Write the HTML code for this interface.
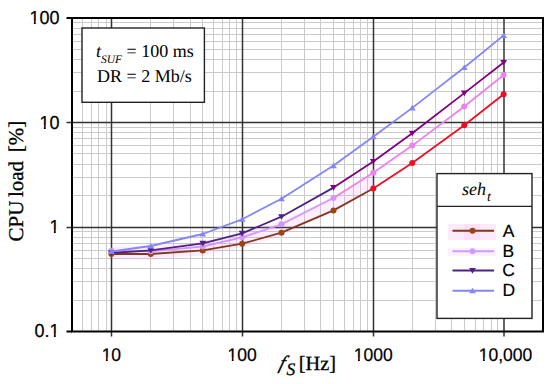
<!DOCTYPE html>
<html><head><meta charset="utf-8"><style>
html,body{margin:0;padding:0;background:#fff;width:550px;height:384px;overflow:hidden}
svg{position:absolute;left:0;top:0}
text{text-rendering:geometricPrecision;stroke:#000;stroke-width:0.2px}
.bold text,text.bold{stroke-width:0.3px}
.thin text,text.thin{stroke-width:0}
.sans{font-family:"Liberation Sans",sans-serif}
.serif{font-family:"Liberation Serif",serif}
</style></head><body>
<svg width="550" height="384" viewBox="0 0 550 384" text-rendering="geometricPrecision">
<rect width="550" height="384" fill="#fff"/>
<line x1="82.5" y1="18" x2="82.5" y2="331.5" stroke="#cbcbcb" stroke-width="1"/>
<line x1="91.5" y1="18" x2="91.5" y2="331.5" stroke="#cbcbcb" stroke-width="1"/>
<line x1="98.5" y1="18" x2="98.5" y2="331.5" stroke="#cbcbcb" stroke-width="1"/>
<line x1="106.5" y1="18" x2="106.5" y2="331.5" stroke="#cbcbcb" stroke-width="1"/>
<line x1="150.5" y1="18" x2="150.5" y2="331.5" stroke="#cbcbcb" stroke-width="1"/>
<line x1="173.5" y1="18" x2="173.5" y2="331.5" stroke="#cbcbcb" stroke-width="1"/>
<line x1="190.5" y1="18" x2="190.5" y2="331.5" stroke="#cbcbcb" stroke-width="1"/>
<line x1="202.5" y1="18" x2="202.5" y2="331.5" stroke="#cbcbcb" stroke-width="1"/>
<line x1="213.5" y1="18" x2="213.5" y2="331.5" stroke="#cbcbcb" stroke-width="1"/>
<line x1="222.5" y1="18" x2="222.5" y2="331.5" stroke="#cbcbcb" stroke-width="1"/>
<line x1="229.5" y1="18" x2="229.5" y2="331.5" stroke="#cbcbcb" stroke-width="1"/>
<line x1="236.5" y1="18" x2="236.5" y2="331.5" stroke="#cbcbcb" stroke-width="1"/>
<line x1="281.5" y1="18" x2="281.5" y2="331.5" stroke="#cbcbcb" stroke-width="1"/>
<line x1="304.5" y1="18" x2="304.5" y2="331.5" stroke="#cbcbcb" stroke-width="1"/>
<line x1="320.5" y1="18" x2="320.5" y2="331.5" stroke="#cbcbcb" stroke-width="1"/>
<line x1="333.5" y1="18" x2="333.5" y2="331.5" stroke="#cbcbcb" stroke-width="1"/>
<line x1="344.5" y1="18" x2="344.5" y2="331.5" stroke="#cbcbcb" stroke-width="1"/>
<line x1="353.5" y1="18" x2="353.5" y2="331.5" stroke="#cbcbcb" stroke-width="1"/>
<line x1="360.5" y1="18" x2="360.5" y2="331.5" stroke="#cbcbcb" stroke-width="1"/>
<line x1="367.5" y1="18" x2="367.5" y2="331.5" stroke="#cbcbcb" stroke-width="1"/>
<line x1="412.5" y1="18" x2="412.5" y2="331.5" stroke="#cbcbcb" stroke-width="1"/>
<line x1="435.5" y1="18" x2="435.5" y2="331.5" stroke="#cbcbcb" stroke-width="1"/>
<line x1="451.5" y1="18" x2="451.5" y2="331.5" stroke="#cbcbcb" stroke-width="1"/>
<line x1="464.5" y1="18" x2="464.5" y2="331.5" stroke="#cbcbcb" stroke-width="1"/>
<line x1="475.5" y1="18" x2="475.5" y2="331.5" stroke="#cbcbcb" stroke-width="1"/>
<line x1="483.5" y1="18" x2="483.5" y2="331.5" stroke="#cbcbcb" stroke-width="1"/>
<line x1="491.5" y1="18" x2="491.5" y2="331.5" stroke="#cbcbcb" stroke-width="1"/>
<line x1="497.5" y1="18" x2="497.5" y2="331.5" stroke="#cbcbcb" stroke-width="1"/>
<line x1="72" y1="300.5" x2="543" y2="300.5" stroke="#cbcbcb" stroke-width="1"/>
<line x1="72" y1="281.5" x2="543" y2="281.5" stroke="#cbcbcb" stroke-width="1"/>
<line x1="72" y1="268.5" x2="543" y2="268.5" stroke="#cbcbcb" stroke-width="1"/>
<line x1="72" y1="258.5" x2="543" y2="258.5" stroke="#cbcbcb" stroke-width="1"/>
<line x1="72" y1="250.5" x2="543" y2="250.5" stroke="#cbcbcb" stroke-width="1"/>
<line x1="72" y1="243.5" x2="543" y2="243.5" stroke="#cbcbcb" stroke-width="1"/>
<line x1="72" y1="237.5" x2="543" y2="237.5" stroke="#cbcbcb" stroke-width="1"/>
<line x1="72" y1="231.5" x2="543" y2="231.5" stroke="#cbcbcb" stroke-width="1"/>
<line x1="72" y1="195.5" x2="543" y2="195.5" stroke="#cbcbcb" stroke-width="1"/>
<line x1="72" y1="177.5" x2="543" y2="177.5" stroke="#cbcbcb" stroke-width="1"/>
<line x1="72" y1="164.5" x2="543" y2="164.5" stroke="#cbcbcb" stroke-width="1"/>
<line x1="72" y1="153.5" x2="543" y2="153.5" stroke="#cbcbcb" stroke-width="1"/>
<line x1="72" y1="145.5" x2="543" y2="145.5" stroke="#cbcbcb" stroke-width="1"/>
<line x1="72" y1="138.5" x2="543" y2="138.5" stroke="#cbcbcb" stroke-width="1"/>
<line x1="72" y1="132.5" x2="543" y2="132.5" stroke="#cbcbcb" stroke-width="1"/>
<line x1="72" y1="127.5" x2="543" y2="127.5" stroke="#cbcbcb" stroke-width="1"/>
<line x1="72" y1="91.5" x2="543" y2="91.5" stroke="#cbcbcb" stroke-width="1"/>
<line x1="72" y1="72.5" x2="543" y2="72.5" stroke="#cbcbcb" stroke-width="1"/>
<line x1="72" y1="59.5" x2="543" y2="59.5" stroke="#cbcbcb" stroke-width="1"/>
<line x1="72" y1="49.5" x2="543" y2="49.5" stroke="#cbcbcb" stroke-width="1"/>
<line x1="72" y1="41.5" x2="543" y2="41.5" stroke="#cbcbcb" stroke-width="1"/>
<line x1="72" y1="34.5" x2="543" y2="34.5" stroke="#cbcbcb" stroke-width="1"/>
<line x1="72" y1="28.5" x2="543" y2="28.5" stroke="#cbcbcb" stroke-width="1"/>
<line x1="72" y1="22.5" x2="543" y2="22.5" stroke="#cbcbcb" stroke-width="1"/>
<line x1="111.5" y1="18" x2="111.5" y2="336.5" stroke="#333333" stroke-width="1.5"/>
<line x1="242.5" y1="18" x2="242.5" y2="336.5" stroke="#333333" stroke-width="1.5"/>
<line x1="373.5" y1="18" x2="373.5" y2="336.5" stroke="#333333" stroke-width="1.5"/>
<line x1="504.0" y1="18" x2="504.0" y2="336.5" stroke="#333333" stroke-width="1.5"/>
<line x1="66.5" y1="227.5" x2="543" y2="227.5" stroke="#333333" stroke-width="1.5"/>
<line x1="66.5" y1="122.5" x2="543" y2="122.5" stroke="#333333" stroke-width="1.5"/>
<line x1="66.5" y1="18.0" x2="72" y2="18.0" stroke="#000" stroke-width="2"/>
<line x1="66.5" y1="331.5" x2="72" y2="331.5" stroke="#000" stroke-width="2"/>
<rect x="72" y="18" width="471" height="313.5" fill="none" stroke="#000" stroke-width="2"/>
<polyline points="111.4,252.4 150.7,252.7 202.8,248.4 242.1,240.5 281.5,228.5 333.5,204.2 373.3,180.7" fill="none" stroke="#ff70ff" stroke-opacity="0.12" stroke-width="14" stroke-linejoin="round"/>
<polyline points="111.36,254.00 150.73,254.00 202.76,250.40 242.12,243.70 281.49,232.70 333.52,210.40 373.30,188.50" fill="none" stroke="#80391a" stroke-width="1.8" stroke-linejoin="round"/>
<polyline points="373.30,188.50 412.25,162.90 464.28,125.20 503.64,94.30" fill="none" stroke="#ec1026" stroke-width="1.8" stroke-linejoin="round"/>
<circle cx="111.36" cy="254.00" r="3.0" fill="#9a4512"/>
<circle cx="150.73" cy="254.00" r="3.0" fill="#9a4512"/>
<circle cx="202.76" cy="250.40" r="3.0" fill="#9a4512"/>
<circle cx="242.12" cy="243.70" r="3.0" fill="#9a4512"/>
<circle cx="281.49" cy="232.70" r="3.0" fill="#9a4512"/>
<circle cx="333.52" cy="210.40" r="3.0" fill="#9a4512"/>
<circle cx="373.30" cy="188.50" r="3.0" fill="#ec1026"/>
<circle cx="412.25" cy="162.90" r="3.0" fill="#ec1026"/>
<circle cx="464.28" cy="125.20" r="3.0" fill="#ec1026"/>
<circle cx="503.64" cy="94.30" r="3.0" fill="#ec1026"/>
<polyline points="111.36,250.80 150.73,251.30 202.76,246.50 242.12,237.30 281.49,224.30 333.52,198.00" fill="none" stroke="#d296f6" stroke-width="1.8" stroke-linejoin="round"/>
<polyline points="333.52,198.00 373.30,172.80 412.25,145.60 464.28,106.50 503.64,75.00" fill="none" stroke="#f080f0" stroke-width="1.8" stroke-linejoin="round"/>
<circle cx="111.36" cy="250.80" r="3.0" fill="#d296f6"/>
<circle cx="150.73" cy="251.30" r="3.0" fill="#d296f6"/>
<circle cx="202.76" cy="246.50" r="3.0" fill="#d296f6"/>
<circle cx="242.12" cy="237.30" r="3.0" fill="#d296f6"/>
<circle cx="281.49" cy="224.30" r="3.0" fill="#d296f6"/>
<circle cx="333.52" cy="198.00" r="3.0" fill="#d296f6"/>
<circle cx="373.30" cy="172.80" r="3.0" fill="#f080f0"/>
<circle cx="412.25" cy="145.60" r="3.0" fill="#f080f0"/>
<circle cx="464.28" cy="106.50" r="3.0" fill="#f080f0"/>
<circle cx="503.64" cy="75.00" r="3.0" fill="#f080f0"/>
<polyline points="111.36,253.00 150.73,250.40 202.76,243.40 242.12,233.40 281.49,216.70 333.52,187.60" fill="none" stroke="#4f2185" stroke-width="1.8" stroke-linejoin="round"/>
<polyline points="333.52,187.60 373.30,161.50 412.25,133.30 464.28,93.10 503.64,62.50" fill="none" stroke="#800080" stroke-width="1.8" stroke-linejoin="round"/>
<polygon points="107.96,250.45 114.76,250.45 111.36,256.06" fill="#4f2185"/>
<polygon points="147.33,247.85 154.13,247.85 150.73,253.46" fill="#4f2185"/>
<polygon points="199.36,240.85 206.16,240.85 202.76,246.46" fill="#4f2185"/>
<polygon points="238.72,230.85 245.52,230.85 242.12,236.46" fill="#4f2185"/>
<polygon points="278.09,214.15 284.89,214.15 281.49,219.76" fill="#4f2185"/>
<polygon points="330.12,185.05 336.92,185.05 333.52,190.66" fill="#800080"/>
<polygon points="369.90,158.95 376.70,158.95 373.30,164.56" fill="#800080"/>
<polygon points="408.85,130.75 415.65,130.75 412.25,136.36" fill="#800080"/>
<polygon points="460.88,90.55 467.68,90.55 464.28,96.16" fill="#800080"/>
<polygon points="500.24,59.95 507.04,59.95 503.64,65.56" fill="#800080"/>
<polyline points="111.36,251.50 150.73,246.00 202.76,234.00 242.12,219.30 281.49,198.75 333.52,165.60 373.30,136.80 412.25,107.90 464.28,67.50 503.64,35.40" fill="none" stroke="#8585f5" stroke-width="1.8" stroke-linejoin="round"/>
<polygon points="107.96,254.05 114.76,254.05 111.36,248.44" fill="#8585f5"/>
<polygon points="147.33,248.55 154.13,248.55 150.73,242.94" fill="#8585f5"/>
<polygon points="199.36,236.55 206.16,236.55 202.76,230.94" fill="#8585f5"/>
<polygon points="238.72,221.85 245.52,221.85 242.12,216.24" fill="#8585f5"/>
<polygon points="278.09,201.30 284.89,201.30 281.49,195.69" fill="#8585f5"/>
<polygon points="330.12,168.15 336.92,168.15 333.52,162.54" fill="#8585f5"/>
<polygon points="369.90,139.35 376.70,139.35 373.30,133.74" fill="#8585f5"/>
<polygon points="408.85,110.45 415.65,110.45 412.25,104.84" fill="#8585f5"/>
<polygon points="460.88,70.05 467.68,70.05 464.28,64.44" fill="#8585f5"/>
<polygon points="500.24,37.95 507.04,37.95 503.64,32.34" fill="#8585f5"/>
<!-- annotation box -->
<rect x="82" y="28" width="122.4" height="74.3" fill="#fff" stroke="#222" stroke-width="1.4"/>
<text class="thin" font-family="Liberation Serif" x="96" y="57" font-size="18"><tspan font-style="italic">t</tspan><tspan font-style="italic" font-size="11.5" dy="5.5">SUF</tspan><tspan dy="-5.5"> = 100 ms</tspan></text>
<text class="thin" font-family="Liberation Serif" x="97" y="82.3" font-size="18">DR = 2 Mb/s</text>
<!-- legend -->
<rect x="437" y="173.6" width="95" height="144.8" fill="#fff" stroke="#222" stroke-width="1.4"/>
<rect x="448" y="224" width="48" height="16" fill="#fdebfc"/>
<rect x="464" y="224" width="16" height="16" fill="#fbe0f8"/>
<rect x="448" y="248" width="48" height="8" fill="#fdf0fd"/>
<line x1="437" y1="206.4" x2="532" y2="206.4" stroke="#222" stroke-width="1.4"/>
<text class="thin" font-family="Liberation Serif" x="462" y="195" font-size="18" font-style="italic">seh<tspan font-size="14" dx="1" dy="6">t</tspan></text>
<line x1="452.5" y1="230.8" x2="494" y2="230.8" stroke="#80391a" stroke-width="2"/>
<circle cx="472.50" cy="230.80" r="3.0" fill="#9a4512"/>
<line x1="452.5" y1="251.2" x2="494" y2="251.2" stroke="#c8a0fa" stroke-width="2"/>
<circle cx="472.50" cy="251.20" r="3.0" fill="#c8a0fa"/>
<line x1="452.5" y1="270.6" x2="494" y2="270.6" stroke="#4f2185" stroke-width="2"/>
<polygon points="469.10,268.05 475.90,268.05 472.50,273.66" fill="#4f2185"/>
<line x1="452.5" y1="290.8" x2="494" y2="290.8" stroke="#8585f5" stroke-width="2"/>
<polygon points="469.10,293.35 475.90,293.35 472.50,287.74" fill="#8585f5"/>
<g font-family="Liberation Sans" font-size="17.5">
<text x="502.8" y="236.8">A</text>
<text x="502.5" y="256.6">B</text>
<text x="502.3" y="276.3">C</text>
<text x="502.5" y="296.2">D</text>
</g>
<!-- tick labels -->
<g font-family="Liberation Sans">
<g transform="translate(29.47,24) scale(1,1.05)"><text x="0" y="0" font-size="18">100</text>
<rect x="0.77" y="-2.84" width="3.61" height="3.54" fill="#fff"/>
<rect x="6.27" y="-2.84" width="3.61" height="3.54" fill="#fff"/>
</g>
<g transform="translate(39.48,128.5) scale(1,1.05)"><text x="0" y="0" font-size="18">10</text>
<rect x="0.77" y="-2.84" width="3.61" height="3.54" fill="#fff"/>
<rect x="6.27" y="-2.84" width="3.61" height="3.54" fill="#fff"/>
</g>
<g transform="translate(49.49,233) scale(1,1.05)"><text x="0" y="0" font-size="18">1</text>
<rect x="0.77" y="-2.84" width="3.61" height="3.54" fill="#fff"/>
<rect x="6.27" y="-2.84" width="3.61" height="3.54" fill="#fff"/>
</g>
<g transform="translate(34.48,337.3) scale(1,1.05)"><text x="0" y="0" font-size="18">0.1</text>
<rect x="15.78" y="-2.84" width="3.61" height="3.54" fill="#fff"/>
<rect x="21.28" y="-2.84" width="3.61" height="3.54" fill="#fff"/>
</g>
<g transform="translate(101.63,360.5) scale(1,1.05)"><text x="0" y="0" font-size="17.5">10</text>
<rect x="0.73" y="-2.81" width="3.52" height="3.51" fill="#fff"/>
<rect x="6.10" y="-2.81" width="3.53" height="3.51" fill="#fff"/>
</g>
<g transform="translate(227.52,360.5) scale(1,1.05)"><text x="0" y="0" font-size="17.5">100</text>
<rect x="0.73" y="-2.81" width="3.52" height="3.51" fill="#fff"/>
<rect x="6.10" y="-2.81" width="3.53" height="3.51" fill="#fff"/>
</g>
<g transform="translate(353.72,360.5) scale(1,1.05)"><text x="0" y="0" font-size="17.5">1000</text>
<rect x="0.73" y="-2.81" width="3.52" height="3.51" fill="#fff"/>
<rect x="6.10" y="-2.81" width="3.53" height="3.51" fill="#fff"/>
</g>
<g transform="translate(478.68,360.5) scale(1,1.05)"><text x="0" y="0" font-size="17.5">10,000</text>
<rect x="0.73" y="-2.81" width="3.52" height="3.51" fill="#fff"/>
<rect x="6.10" y="-2.81" width="3.53" height="3.51" fill="#fff"/>
</g>
</g>
<!-- axis titles -->
<g font-family="Liberation Serif" font-size="21" class="bold">
<text transform="translate(23.2,241.5) rotate(-90)">CPU</text>
<text transform="translate(23.2,197.1) rotate(-90)">load</text>
<text transform="translate(23.2,152.3) rotate(-90)">[%]</text>
</g>
<g font-family="Liberation Serif" class="bold">
<text transform="translate(278.2,369.2) skewX(-16)" font-size="19.2" font-style="italic">f</text>
<text x="286.5" y="374.8" font-size="17.5" font-style="italic">S</text>
<text x="298.8" y="370" font-size="20.3">[Hz]</text>
</g>
</svg>
</body></html>
